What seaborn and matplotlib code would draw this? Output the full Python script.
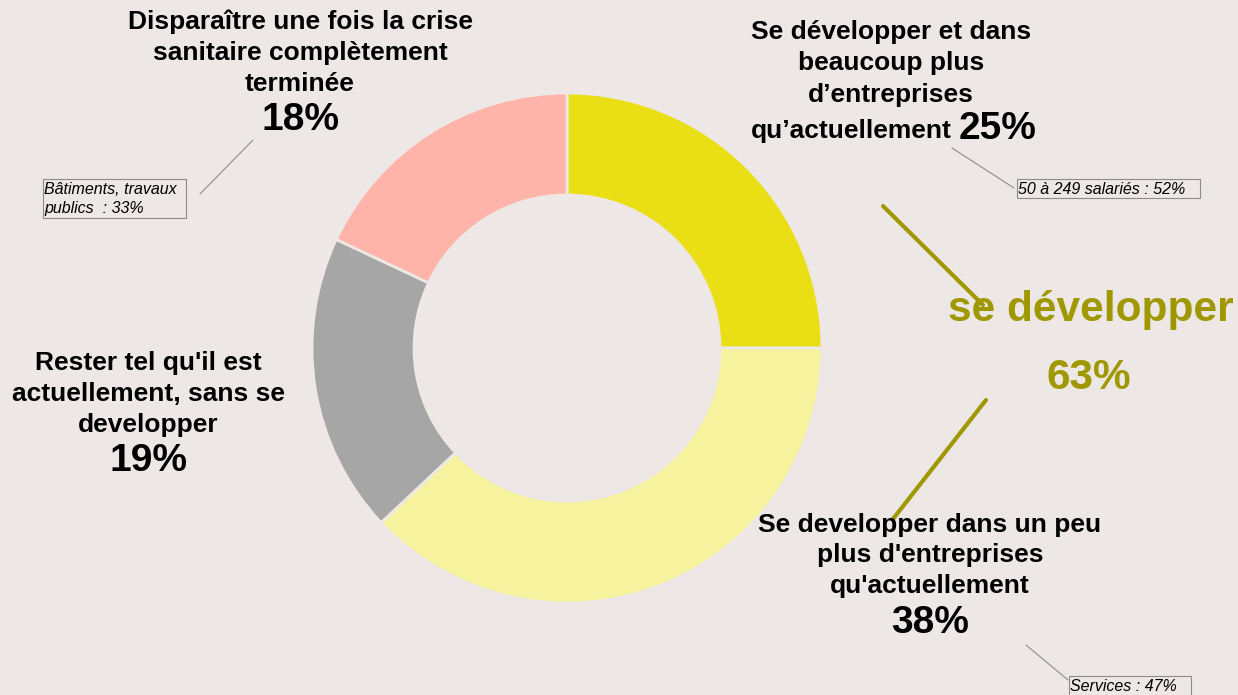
import numpy as np
import matplotlib
matplotlib.use("Agg")
import matplotlib.pyplot as plt
from matplotlib.patches import Rectangle
import seaborn as sns

# données du graphique
categories = [
    "Se développer et dans beaucoup plus d’entreprises qu’actuellement",
    "Se developper dans un peu plus d'entreprises qu'actuellement",
    "Rester tel qu'il est actuellement, sans se developper",
    "Disparaître une fois la crise sanitaire complètement terminée",
]
values = [25, 38, 19, 18]
colors = ["#E9DF14", "#F7F29D", "#A6A6A6", "#FFB4A9"]
pct_labels = ["25%", "38%", "19%", "18%"]

# libellés affichés (lignes)
label_lines = [
    ["Se développer et dans", "beaucoup plus", "d’entreprises", "qu’actuellement"],
    ["Se developper dans un peu", "plus d'entreprises", "qu'actuellement"],
    ["Rester tel qu'il est", "actuellement, sans se", "developper"],
    ["Disparaître une fois la crise", "sanitaire complètement", "terminée"],
]
notes = ["50 à 249 salariés : 52%", "Services : 47%", "", "Bâtiments, travaux\npublics  : 33%"]
total_label = "se développer"
total_pct = "63%"

bg = "#EDE8E5"
olive = "#A09800"
W, H = 1238, 695

sns.set_theme(style="white")
plt.rcParams["font.family"] = ["Liberation Sans", "DejaVu Sans"]
plt.rcParams["text.color"] = "black"

fig = plt.figure(figsize=(W / 100, H / 100), dpi=100, facecolor=bg)
ax = fig.add_axes([0, 0, 1, 1])
ax.set_facecolor(bg)


def Y(y):
    return H - y


# anneau
ax.pie(values, colors=colors, startangle=90, counterclock=False,
       center=(567, Y(348)), radius=255, frame=True,
       wedgeprops=dict(width=102, edgecolor=bg, linewidth=2))
ax.set_xlim(0, W)
ax.set_ylim(0, H)
ax.axis("off")

fs = 19
pfs = 28

# Se développer (25%)
for t, y in zip(label_lines[0][:3], [32, 63, 95]):
    ax.text(891, Y(y), t, ha="center", va="center", fontsize=fs, fontweight="bold")
ax.text(952, Y(131), label_lines[0][3], ha="right", va="center", fontsize=fs, fontweight="bold")
ax.text(959, Y(129), pct_labels[0], ha="left", va="center", fontsize=pfs, fontweight="bold")

# Se developper un peu (38%)
for t, y in zip(label_lines[1], [525, 555, 586]):
    ax.text(930, Y(y), t, ha="center", va="center", fontsize=fs, fontweight="bold")
ax.text(930, Y(623), pct_labels[1], ha="center", va="center", fontsize=pfs, fontweight="bold")

# Rester tel (19%)
for t, y in zip(label_lines[2], [363, 394, 425]):
    ax.text(148, Y(y), t, ha="center", va="center", fontsize=fs, fontweight="bold")
ax.text(148, Y(461), pct_labels[2], ha="center", va="center", fontsize=pfs, fontweight="bold")

# Disparaître (18%)
for t, y in zip(label_lines[3], [22, 53, 84]):
    ax.text(300, Y(y), t, ha="center", va="center", fontsize=fs, fontweight="bold")
ax.text(300, Y(120), pct_labels[3], ha="center", va="center", fontsize=pfs, fontweight="bold")

# total se développer
ax.text(1091, Y(310), total_label, ha="center", va="center", fontsize=30.5,
        fontweight="bold", color=olive)
ax.text(1089, Y(378), total_pct, ha="center", va="center", fontsize=30.5,
        fontweight="bold", color=olive)
ax.plot([883, 983], [Y(206), Y(305)], color=olive, lw=3)
ax.plot([986, 893], [Y(400), Y(519)], color=olive, lw=3)

# encadrés
boxes = [(1017, 179, 183, 19), (1069, 676, 122, 25), None, (43, 179, 143, 39)]
leaders = [((952, 148), (1014, 188)), ((1026, 645), (1068, 680)), None,
           ((200, 194), (253, 140))]
for note, box, ld in zip(notes, boxes, leaders):
    if box is None:
        continue
    x, y, w, h = box
    ax.add_patch(Rectangle((x, Y(y + h)), w, h, facecolor="none",
                           edgecolor="#8C8C8C", lw=0.8))
    ax.text(x + 1, Y(y + 3), note, ha="left", va="top", fontsize=11.5,
            fontstyle="italic", linespacing=1.3)
    (x0, y0), (x1, y1) = ld
    ax.plot([x0, x1], [Y(y0), Y(y1)], color="#8C8C8C", lw=0.8)

fig.savefig("out.png", dpi=100, facecolor=bg)
